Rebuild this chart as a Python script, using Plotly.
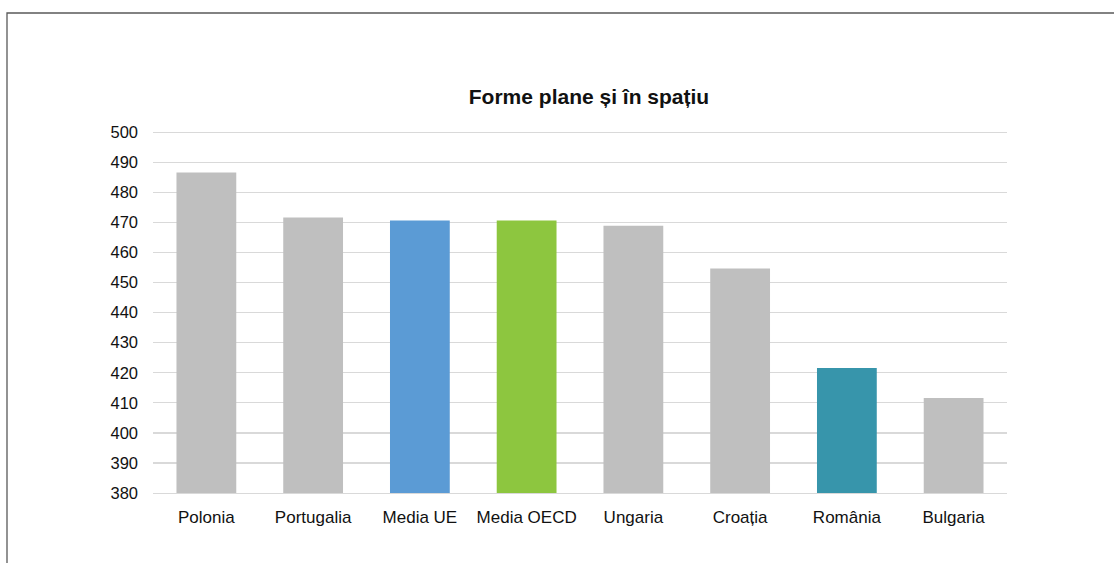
import plotly.graph_objects as go

categories = ["Polonia", "Portugalia", "Media UE", "Media OECD", "Ungaria", "Croația", "România", "Bulgaria"]
values = [486.6, 471.6, 470.6, 470.6, 468.9, 454.7, 421.6, 411.6]
colors = ["#BFBFBF", "#BFBFBF", "#5B9BD5", "#8DC63F", "#BFBFBF", "#BFBFBF", "#3795AB", "#BFBFBF"]
y_ticks = list(range(380, 501, 10))

W, H = 1114, 563
ml, mr, mt, mb = 153, 107, 131, 70
pw, ph = W - ml - mr, H - mt - mb

fig = go.Figure(go.Bar(x=categories, y=values, marker=dict(color=colors, line=dict(width=0))))

fig.update_layout(
    width=W, height=H,
    margin=dict(l=ml, r=mr, t=mt, b=mb, pad=0),
    paper_bgcolor="white", plot_bgcolor="white",
    bargap=0.44,
    showlegend=False,
    font=dict(family="Liberation Sans, Arial, sans-serif", size=16.5, color="#111111"),
    title=dict(text="<b>Forme plane și în spațiu</b>", x=589 / W, xanchor="center",
               y=1 - 97 / H, yanchor="middle",
               font=dict(size=21, color="#111111")),
)
fig.update_yaxes(range=[380, 500.4], tickvals=y_ticks, showgrid=True, gridcolor="#D9D9D9", gridwidth=1.3,
                 zeroline=False, showline=False, ticks="", ticklabelstandoff=14, fixedrange=True)
fig.update_xaxes(showline=True, linecolor="#D9D9D9", linewidth=1.3, ticks="", ticklabelstandoff=8,
                 tickfont=dict(size=17), fixedrange=True)

# outer chart frame
fig.add_shape(type="rect", xref="paper", yref="paper",
              x0=(7 - ml) / pw, x1=(W + 20 - ml) / pw,
              y0=(H - 13 - mb) / ph, y1=-(mb + 20) / ph,
              line=dict(color="#595959", width=1.3), fillcolor="rgba(0,0,0,0)", layer="below")

fig.write_html("out.html", config={"displayModeBar": False, "staticPlot": True},
               post_script="document.body.style.margin='0';document.body.style.overflow='hidden';")
